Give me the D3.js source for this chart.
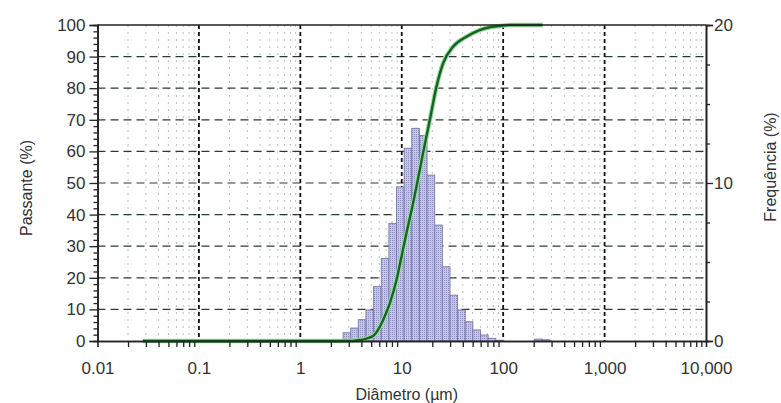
<!DOCTYPE html>
<html>
<head>
<meta charset="utf-8">
<script src="https://cdn.jsdelivr.net/npm/d3@7"></script>
<style>
  body { margin: 0; background: #fff; }
  text { font-family: "Liberation Sans", Arial, sans-serif; fill: #333; }
</style>
</head>
<body>
<div id="container"></div>
<script>
/**
 * DATA
 * */
// histogram bin edges, µm (log spaced)
const binEdges = [2.64, 3.14, 3.73, 4.44, 5.28, 6.28, 7.47, 8.88, 10.56, 12.56, 14.93,
                  17.76, 21.12, 25.12, 29.87, 35.52, 42.24, 50.23, 59.74, 71.04, 84.48, 100.5];
// frequency per bin, %
const binFreq = [0.52, 0.82, 1.35, 1.96, 3.44, 5.23, 7.45, 9.75, 12.2, 13.46, 13.0,
                 10.5, 7.34, 4.7, 2.9, 1.96, 1.22, 0.7, 0.38, 0.17, 0.05];
// small coarse bins near 200-300 µm
const coarseEdges = [204, 243, 289];
const coarseFreq = [0.12, 0.08];

// cumulative passing curve
const curveDiam = [0.028, 1, 2.45, 3.3, 3.86, 5.21, 6.54, 7.62, 8.87, 9.94, 11.1, 12.5, 14.0,
                   16.2, 18.9, 22.0, 25.5, 32.0, 43.4, 58.6, 73.6, 92.5, 116, 245];
const curvePass = [0, 0, 0, 0.05, 0.3, 1.6, 6.6, 11.9, 19.3, 26.7, 34, 41.4, 49,
                   59.4, 69.9, 80.5, 87.8, 93.1, 96.3, 98.4, 99.3, 99.7, 100, 100];

const xDecades = [0.01, 0.1, 1, 10, 100, 1000, 10000];
const leftTicks = [0, 10, 20, 30, 40, 50, 60, 70, 80, 90, 100];
const rightTicks = [0, 10, 20];

/**
 * LAYOUT
 * */
const width = 781, height = 403;
const x0 = 97.5, x1 = 706, yTop = 25, yBot = 341;

const svg = d3.select("#container")
  .append("svg")
  .attr("width", width)
  .attr("height", height);

const x = d3.scaleLog().domain([0.01, 10000]).range([x0, x1]);
const yL = d3.scaleLinear().domain([0, 100]).range([yBot, yTop]);
const yR = d3.scaleLinear().domain([0, 20]).range([yBot, yTop]);

// minor x values 2..9 per decade
const xMinor = [];
xDecades.slice(0, -1).forEach(d => {
  for (let k = 2; k <= 9; k++) xMinor.push(d * k);
});

// pattern for the bars
const defs = svg.append("defs");
const pat = defs.append("pattern")
  .attr("id", "dots")
  .attr("width", 2).attr("height", 2)
  .attr("patternUnits", "userSpaceOnUse");
pat.append("rect").attr("width", 2).attr("height", 2).attr("fill", "#c6c6e0");
pat.append("rect").attr("width", 1).attr("height", 1).attr("fill", "#8f8fbd");

// minor vertical grid
svg.append("g")
  .selectAll("line")
  .data(xMinor)
  .join("line")
  .attr("x1", d => x(d)).attr("x2", d => x(d))
  .attr("y1", yTop).attr("y2", yBot)
  .attr("stroke", "#bdbdbd")
  .attr("stroke-width", 1)
  .attr("stroke-dasharray", "2,5");

// horizontal dashed grid
svg.append("g")
  .selectAll("line")
  .data(leftTicks.filter(d => d > 0 && d < 100))
  .join("line")
  .attr("x1", x0).attr("x2", x1)
  .attr("y1", d => yL(d)).attr("y2", d => yL(d))
  .attr("stroke", "#2c3b2c")
  .attr("stroke-width", 1.2)
  .attr("stroke-dasharray", "8,5");

// major vertical dashed grid
svg.append("g")
  .selectAll("line")
  .data(xDecades.slice(1, -1))
  .join("line")
  .attr("x1", d => x(d)).attr("x2", d => x(d))
  .attr("y1", yTop).attr("y2", yBot)
  .attr("stroke", "#111")
  .attr("stroke-width", 1.8)
  .attr("stroke-dasharray", "4,3");

// histogram bars
const bins = binFreq.map((f, i) => ({ a: binEdges[i], b: binEdges[i + 1], f }))
  .concat(coarseFreq.map((f, i) => ({ a: coarseEdges[i], b: coarseEdges[i + 1], f })));

svg.append("g")
  .selectAll("rect")
  .data(bins)
  .join("rect")
  .attr("x", d => x(d.a))
  .attr("width", d => x(d.b) - x(d.a))
  .attr("y", d => yR(d.f))
  .attr("height", d => yBot - yR(d.f))
  .attr("fill", "url(#dots)")
  .attr("stroke", "#7676a8")
  .attr("stroke-width", 0.9);

// cumulative curve
const pts = curveDiam.map((d, i) => [d, curvePass[i]]);
const line = d3.line()
  .x(d => x(d[0]))
  .y(d => yL(d[1]))
  .curve(d3.curveMonotoneX);

svg.append("path")
  .datum(pts)
  .attr("d", line)
  .attr("fill", "none")
  .attr("stroke", "#93dc93")
  .attr("stroke-width", 4.5);
svg.append("path")
  .datum(pts)
  .attr("d", line)
  .attr("fill", "none")
  .attr("stroke", "#17622a")
  .attr("stroke-width", 2.4);

// top border
svg.append("line")
  .attr("x1", x0).attr("x2", x1)
  .attr("y1", yTop).attr("y2", yTop)
  .attr("stroke", "#222").attr("stroke-width", 1.6);

// bottom axis
const fmt = d3.format(",");
const gx = svg.append("g").attr("transform", `translate(0,${yBot})`);
gx.call(d3.axisBottom(x).tickValues(xMinor).tickSize(6).tickFormat(""));
gx.append("g").call(d3.axisBottom(x).tickValues(xDecades).tickSize(0).tickPadding(21).tickFormat(fmt));

// left axis
const leftMinor = d3.range(2, 100, 2).filter(d => d % 10 !== 0);
const gl = svg.append("g").attr("transform", `translate(${x0},0)`);
gl.call(d3.axisLeft(yL).tickValues(leftTicks).tickSize(8).tickPadding(4).tickFormat(d3.format("d")));
gl.append("g").call(d3.axisLeft(yL).tickValues(leftMinor).tickSize(4).tickFormat(""));

// right axis
const rightMinor = [2.5, 5, 7.5, 12.5, 15, 17.5];
const gr = svg.append("g").attr("transform", `translate(${x1},0)`);
gr.call(d3.axisRight(yR).tickValues(rightTicks).tickSize(7).tickPadding(1).tickFormat(d3.format("d")));
gr.append("g").call(d3.axisRight(yR).tickValues(rightMinor).tickSize(4).tickFormat(""));

svg.selectAll(".domain").attr("stroke", "#222").attr("stroke-width", 1.6);
svg.selectAll(".tick line").attr("stroke", "#222").attr("stroke-width", 1.3);
svg.selectAll(".tick text")
  .style("font-family", "'Liberation Sans', Arial, sans-serif")
  .style("font-size", "17px")
  .attr("fill", "#333");

// axis titles
svg.append("text")
  .attr("x", (x0 + x1) / 2 + 5).attr("y", 400)
  .attr("text-anchor", "middle")
  .style("font-size", "16px")
  .text("Diâmetro (µm)");

svg.append("text")
  .attr("transform", "translate(32,188) rotate(-90)")
  .attr("text-anchor", "middle")
  .style("font-size", "16px")
  .text("Passante (%)");

svg.append("text")
  .attr("transform", "translate(776,167) rotate(-90)")
  .attr("text-anchor", "middle")
  .style("font-size", "16px")
  .text("Frequência (%)");
</script>
</body>
</html>
